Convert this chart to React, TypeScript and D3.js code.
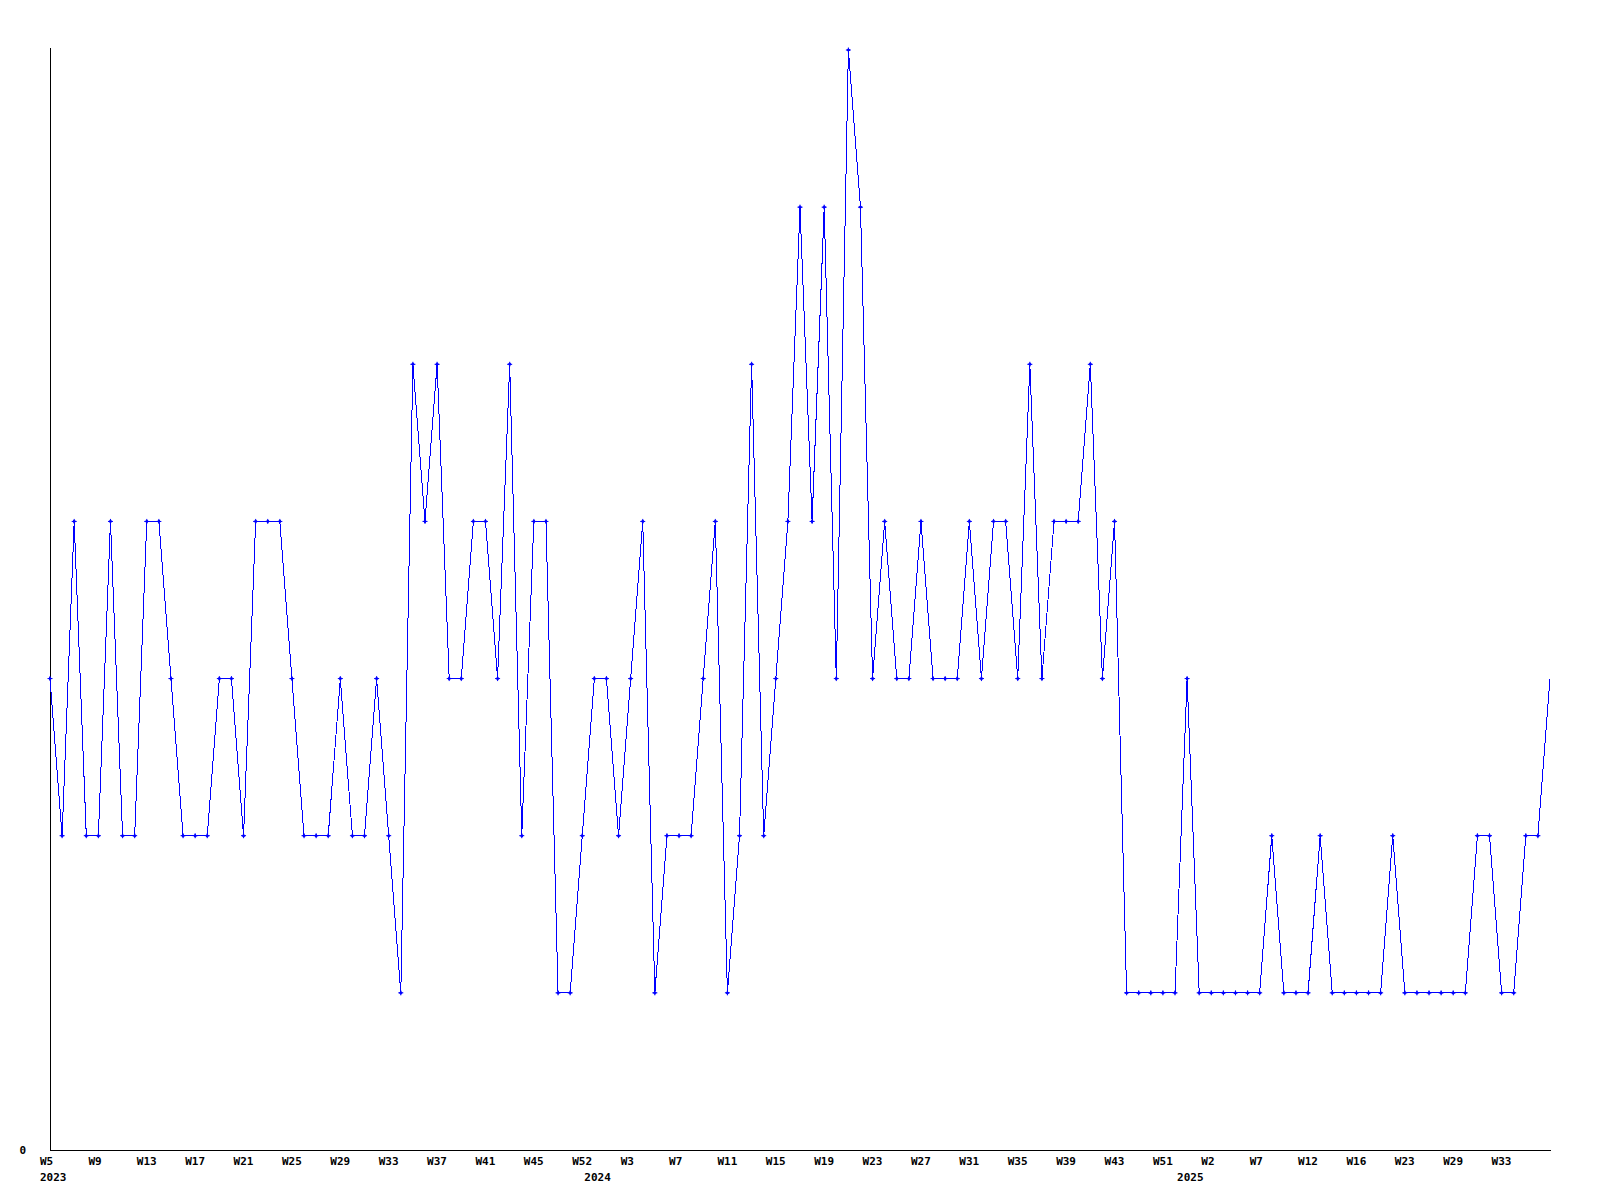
import React from "react";
import * as d3 from "d3";

const values: number[] = [
  3, 2, 4, 2, 2, 4, 2, 2, 4, 4,
  3, 2, 2, 2, 3, 3, 2, 4, 4, 4,
  3, 2, 2, 2, 3, 2, 2, 3, 2, 1,
  5, 4, 5, 3, 3, 4, 4, 3, 5, 2,
  4, 4, 1, 1, 2, 3, 3, 2, 3, 4,
  1, 2, 2, 2, 3, 4, 1, 2, 5, 2,
  3, 4, 6, 4, 6, 3, 7, 6, 3, 4,
  3, 3, 4, 3, 3, 3, 4, 3, 4, 4,
  3, 5, 3, 4, 4, 4, 5, 3, 4, 1,
  1, 1, 1, 1, 3, 1, 1, 1, 1, 1,
  1, 2, 1, 1, 1, 2, 1, 1, 1, 1,
  1, 2, 1, 1, 1, 1, 1, 1, 2, 2,
  1, 1, 2, 2, 3,
];

const weekTicks: { index: number; label: string }[] = [
  { index: 0, label: "W5" }, { index: 4, label: "W9" }, { index: 8, label: "W13" },
  { index: 12, label: "W17" }, { index: 16, label: "W21" }, { index: 20, label: "W25" },
  { index: 24, label: "W29" }, { index: 28, label: "W33" }, { index: 32, label: "W37" },
  { index: 36, label: "W41" }, { index: 40, label: "W45" }, { index: 44, label: "W52" },
  { index: 48, label: "W3" }, { index: 52, label: "W7" }, { index: 56, label: "W11" },
  { index: 60, label: "W15" }, { index: 64, label: "W19" }, { index: 68, label: "W23" },
  { index: 72, label: "W27" }, { index: 76, label: "W31" }, { index: 80, label: "W35" },
  { index: 84, label: "W39" }, { index: 88, label: "W43" }, { index: 92, label: "W51" },
  { index: 96, label: "W2" }, { index: 100, label: "W7" }, { index: 104, label: "W12" },
  { index: 108, label: "W16" }, { index: 112, label: "W23" }, { index: 116, label: "W29" },
  { index: 120, label: "W33" },
];

const yearTicks: { index: number; label: string }[] = [
  { index: 0, label: "2023" },
  { index: 45, label: "2024" },
  { index: 94, label: "2025" },
];

const yTickValues: number[] = [0];

export default function App() {
  const W = 1600, H = 1200;
  const left = 50, right = 1550, top = 50, bottom = 1150;
  const x = d3.scaleLinear().domain([0, values.length - 1]).range([left, right]);
  const y = d3.scaleLinear().domain([0, 7]).range([bottom, top]);
  const line = d3.line<number>().x((_, i) => x(i)).y((d) => y(d));
  const font = "'DejaVu Sans Mono', 'Liberation Mono', monospace";
  const marker = "M-2.5,0H2.5M0,-2.5V2.5M-1.5,0L0,-1.5L1.5,0L0,1.5Z";

  return (
    <svg
      width={W}
      height={H}
      style={{ position: "absolute", left: 0, top: 0, background: "#fff" }}
    >
      <rect width={W} height={H} fill="#fff" />
      <line x1={left + 0.5} x2={left + 0.5} y1={top - 2} y2={bottom} stroke="#000" strokeWidth={1} shapeRendering="crispEdges" />
      <line x1={left} x2={right + 1} y1={bottom + 0.5} y2={bottom + 0.5} stroke="#000" strokeWidth={1} shapeRendering="crispEdges" />
      {yTickValues.map((v) => (
        <text key={v} x={26} y={y(v) + 4} textAnchor="end" fontFamily={font} fontWeight="bold" fontSize={11} fill="#000">
          {v}
        </text>
      ))}
      <path d={line(values) || ""} fill="none" stroke="#0000ff" strokeWidth={1} shapeRendering="crispEdges" />
      {values.slice(0, values.length - 1).map((v, i) => (
        <path
          key={i}
          transform={`translate(${x(i)},${y(v)})`}
          d={marker}
          fill="#0000ff"
          stroke="#0000ff"
          strokeWidth={1}
        />
      ))}
      {weekTicks.map((t) => (
        <text key={t.index} x={x(t.index) - 10} y={bottom + 15} textAnchor="start" fontFamily={font} fontWeight="bold" fontSize={11} fill="#000">
          {t.label}
        </text>
      ))}
      {yearTicks.map((t) => (
        <text key={t.label} x={x(t.index) - 10} y={bottom + 31} textAnchor="start" fontFamily={font} fontWeight="bold" fontSize={11} fill="#000">
          {t.label}
        </text>
      ))}
    </svg>
  );
}
